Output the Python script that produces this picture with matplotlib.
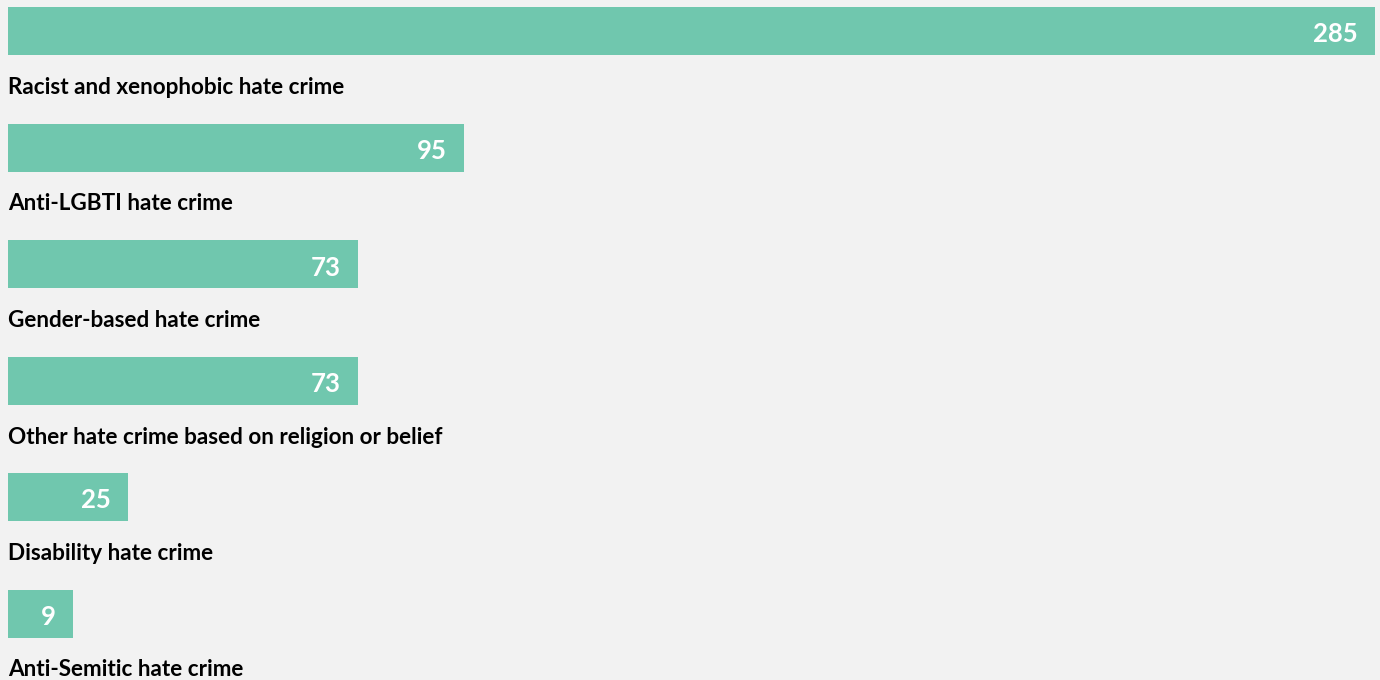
import matplotlib
matplotlib.use("Agg")
import matplotlib.pyplot as plt

# hate crime counts by bias motivation
categories = [
    "Racist and xenophobic hate crime",
    "Anti-LGBTI hate crime",
    "Gender-based hate crime",
    "Other hate crime based on religion or belief",
    "Disability hate crime",
    "Anti-Semitic hate crime",
]
counts = [285, 95, 73, 73, 25, 9]

bg = "#f2f2f2"
bar_color = "#70c7ae"
plt.rcParams['font.family'] = ['Lato', 'DejaVu Sans']

fig = plt.figure(figsize=(13.8, 6.8), dpi=100)
fig.patch.set_facecolor(bg)
ax = fig.add_axes([0, 0, 1, 1])
ax.set_facecolor(bg)

px = 285 / (1375 - 8)  # data units per pixel
ax.set_xlim(-8 * px, (1380 - 8) * px)
ax.set_ylim(680, 0)

step = 116.5
for i, (name, val) in enumerate(zip(categories, counts)):
    top = 7 + i * step
    w = max(val, 65 * px)  # small bars keep a minimum width
    ax.barh(top, w, height=48, left=0, align="edge", color=bar_color)
    ax.text(w - 17 * px, top + 27.5, str(val), ha="right", va="center",
            color="white", fontsize=18.5, fontweight="bold")
    ax.text(0, top + 80.5, name, ha="left", va="center",
            color="black", fontsize=16.2, fontweight="bold")

ax.axis("off")
fig.savefig("out.png", dpi=100, facecolor=bg)
